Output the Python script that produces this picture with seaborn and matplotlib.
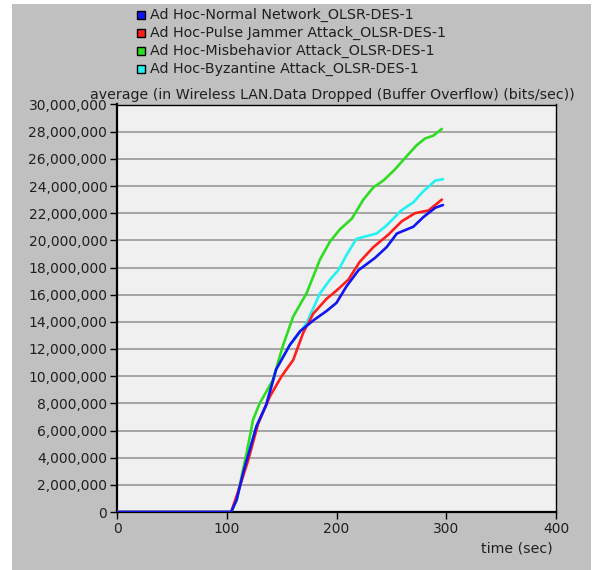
import numpy as np
import pandas as pd
import matplotlib
matplotlib.use("Agg")
import matplotlib.pyplot as plt
from matplotlib.patches import Rectangle
from matplotlib.ticker import FuncFormatter, MultipleLocator
import seaborn as sns

# Simulation time (sec) and average dropped data (Mbit/s) for each scenario
normal_t = [0, 104, 109, 115, 127, 136, 145, 157.5, 166.7, 178.8, 191, 200, 209, 220, 235, 245.7, 255, 270, 279, 290, 297]
normal_v = [0, 0, 0.9, 2.9, 6.3, 7.9, 10.5, 12.3, 13.3, 14.1, 14.8, 15.4, 16.6, 17.8, 18.7, 19.5, 20.5, 21.0, 21.7, 22.4, 22.6]

jammer_t = [0, 104, 112, 119.5, 128.6, 139.3, 150, 160.6, 169.7, 178.8, 191, 200, 210.8, 221, 233.6, 247, 259.4, 271.6, 283.8, 296]
jammer_v = [0, 0, 1.9, 3.8, 6.5, 8.5, 10.0, 11.2, 13.2, 14.6, 15.7, 16.3, 17.1, 18.4, 19.5, 20.4, 21.4, 22.0, 22.2, 23.0]

misbehavior_t = [0, 104, 109, 118, 124, 130, 142, 151, 160.6, 172.7, 185, 194, 203, 214, 224.5, 233.6, 242.7, 253, 264, 273, 280.7, 288, 296]
misbehavior_v = [0, 0, 0.9, 4.3, 6.8, 8.0, 9.7, 12.2, 14.4, 16.1, 18.6, 19.9, 20.8, 21.6, 23.0, 23.9, 24.4, 25.2, 26.2, 27.0, 27.5, 27.7, 28.2]

byzantine_t = [0, 104, 109, 115, 127, 136, 145, 157.5, 163.6, 172.7, 185, 194, 201.6, 209, 218, 227, 236.5, 245.7, 259, 270, 279, 290, 297]
byzantine_v = [0, 0, 0.9, 2.9, 6.3, 7.9, 10.5, 12.3, 12.9, 13.9, 16.1, 17.1, 17.8, 18.9, 20.1, 20.3, 20.5, 21.1, 22.2, 22.8, 23.6, 24.4, 24.5]

labels = [
    "Ad Hoc-Normal Network_OLSR-DES-1",
    "Ad Hoc-Pulse Jammer Attack_OLSR-DES-1",
    "Ad Hoc-Misbehavior Attack_OLSR-DES-1",
    "Ad Hoc-Byzantine Attack_OLSR-DES-1",
]
colors = ["#1414f0", "#ff1e1e", "#2edc22", "#22f2f2"]

series = [
    (normal_t, normal_v),
    (jammer_t, jammer_v),
    (misbehavior_t, misbehavior_v),
    (byzantine_t, byzantine_v),
]
frames = []
for lab, (t, v) in zip(labels, series):
    frames.append(pd.DataFrame({"time": t, "value": np.array(v) * 1e6, "scenario": lab}))
df = pd.concat(frames, ignore_index=True)

sns.set_style("white")
plt.rcParams["font.family"] = ["DejaVu Sans"]

W, H = 594, 570
fig = plt.figure(figsize=(W / 100, H / 100), dpi=100, facecolor="white")
fig.patches.append(Rectangle((12 / W, 0), (591 - 12) / W, 1 - 4 / H,
                             transform=fig.transFigure, facecolor="#c0c0c0",
                             edgecolor="none", zorder=-10))

ax = fig.add_axes([117 / W, 1 - 512 / H, (556 - 117) / W, (512 - 104.5) / H])
ax.set_facecolor("#f0f0f0")

# draw in reverse so the normal-network curve sits on top
for i in [3, 2, 1, 0]:
    sub = df[df["scenario"] == labels[i]]
    sns.lineplot(data=sub, x="time", y="value", color=colors[i], lw=1.9,
                 ax=ax, legend=False, estimator=None, sort=True, zorder=3 + (3 - i))

ax.set_xlim(0, 400)
ax.set_ylim(0, 30e6)
ax.xaxis.set_major_locator(MultipleLocator(100))
ax.yaxis.set_major_locator(MultipleLocator(2e6))
ax.yaxis.set_major_formatter(FuncFormatter(lambda v, p: f"{int(round(v)):,}"))
ax.grid(axis="y", color="#a0a0a0", lw=1.3)
ax.grid(axis="x", visible=False)
ax.set_xlabel("")
ax.set_ylabel("")
for s in ax.spines.values():
    s.set_color("black")
ax.spines["left"].set_linewidth(1.6)
ax.spines["bottom"].set_linewidth(1.6)
ax.spines["top"].set_linewidth(1.0)
ax.spines["right"].set_linewidth(1.0)
ax.tick_params(axis="both", direction="out", length=5, width=1, color="black",
               labelsize=10, labelcolor="#202020", pad=2)
ax.tick_params(axis="y", left=True)
ax.tick_params(axis="x", bottom=True)

fig.text(332 / W, 1 - 95 / H, "average (in Wireless LAN.Data Dropped (Buffer Overflow) (bits/sec))",
         ha="center", va="center", fontsize=10.2, color="#202020")
fig.text(553 / W, 1 - 548 / H, "time (sec)", ha="right", va="center",
         fontsize=10.2, color="#202020")

# legend: coloured squares with black outline, one row per scenario
row_y = [15, 33, 51, 69]
for c, lab, y in zip(colors, labels, row_y):
    fig.patches.append(Rectangle((137 / W, 1 - (y + 4) / H), 8 / W, 8 / H,
                                 transform=fig.transFigure, facecolor=c,
                                 edgecolor="black", lw=1.0))
    fig.text(150 / W, 1 - y / H, lab, ha="left", va="center",
             fontsize=10.3, color="#202020")

fig.savefig("out.png", dpi=100, facecolor="white")
